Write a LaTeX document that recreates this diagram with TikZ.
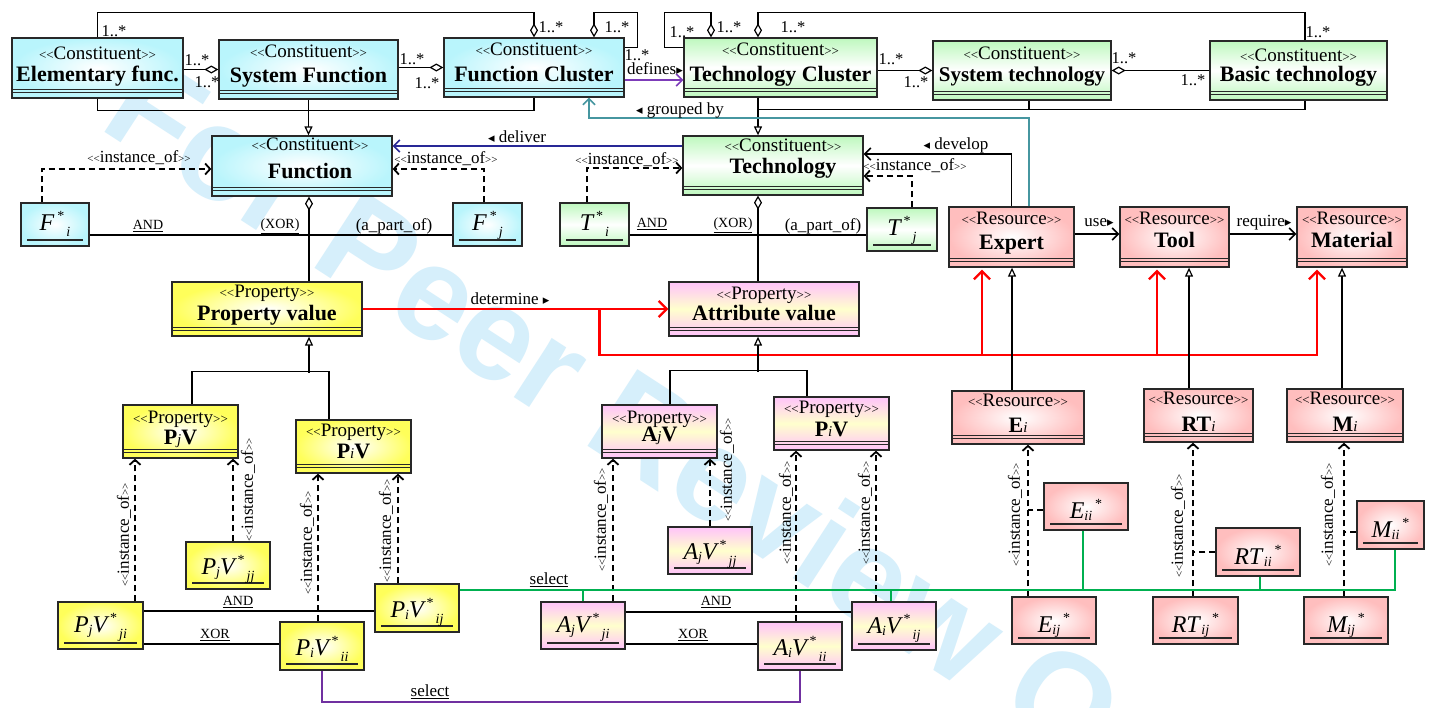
\documentclass[tikz,border=0pt]{standalone}
\usepackage{fontspec}
\setmainfont{Liberation Serif}
\newfontfamily\symfont{DejaVu Sans}
\newfontfamily\wmfont{Liberation Sans}
\usetikzlibrary{arrows.meta,calc}

\definecolor{cyanbox}{RGB}{185,245,252}
\definecolor{greenbox}{RGB}{190,248,190}
\definecolor{yellowbox}{RGB}{255,255,90}
\definecolor{pinkbox}{RGB}{255,195,250}
\definecolor{creambox}{RGB}{255,255,205}
\definecolor{resbox}{RGB}{255,190,190}
\definecolor{wm}{RGB}{214,239,251}
\definecolor{selgreen}{RGB}{0,176,80}
\definecolor{selpurple}{RGB}{112,48,160}
\definecolor{defpurple}{RGB}{125,60,185}
\definecolor{grpteal}{RGB}{70,150,160}
\definecolor{delnavy}{RGB}{40,40,150}
\definecolor{edge}{RGB}{40,40,40}

% stereotype brackets and small glyphs
\newcommand\guil[1]{{\fontsize{13}{13}\selectfont<{}<}#1{\fontsize{13}{13}\selectfont>{}>}}
\newcommand\io{{\fontsize{11}{11}\selectfont<{}<}instance\_of{\fontsize{11}{11}\selectfont>{}>}}
\newcommand\tril{{\symfont\fontsize{13}{13}\selectfont ◂}}
\newcommand\trir{{\symfont\fontsize{13}{13}\selectfont ▸}}
% instance names
\newcommand\ib[1]{{\fontsize{24}{24}\selectfont\itshape #1}}
\newcommand\is[1]{\raisebox{-2pt}{\fontsize{14}{14}\selectfont\itshape #1}}
\newcommand\istar{\hspace{3pt}\raisebox{10pt}{\fontsize{14}{14}\selectfont *}}
\newcommand\isub[1]{\hspace{2pt}\raisebox{-6pt}{\fontsize{14}{14}\selectfont\itshape #1}}
% index inside a bold class name
\newcommand\ti[1]{{\fontsize{15}{15}\selectfont\mdseries\itshape #1}}

% box given by its corners
\newcommand\ubox[6]{%
  \pgfmathsetmacro\ubW{#5-#3}%
  \pgfmathsetmacro\ubH{#6-#4}%
  \pgfmathsetmacro\ubX{(#3+#5)/2}%
  \pgfmathsetmacro\ubY{(#4+#6)/2}%
  \node[#2, minimum width=\ubW pt, minimum height=\ubH pt] (#1) at (\ubX,\ubY) {};}
% stereotype and name of a class box
\newcommand\ctext[6]{%
  \node[stereo] (#1-s) at ([xshift=#6pt,yshift=-#3pt]#1.north) {\guil{#2}};
  \node[title] (#1-t) at ([xshift=#6pt,yshift=-#5pt]#1.north) {#4};}
% instance box with underlined name
\newcommand\uinst[8]{%
  \ubox{#1}{instbox,#2}{#3}{#4}{#5}{#6}%
  \node[anchor=base, inner sep=0pt] (#1-t) at ([yshift=#8pt]#1.south) {#7};}

\tikzset{
  box/.style={draw=edge, line width=1.3pt, rectangle, inner sep=0pt},
  clsbox/.style={box, path picture={
      \draw[edge, line width=1pt] ([yshift=9pt]path picture bounding box.south west) -- ([yshift=9pt]path picture bounding box.south east);
      \draw[edge, line width=1pt] ([yshift=5.5pt]path picture bounding box.south west) -- ([yshift=5.5pt]path picture bounding box.south east);}},
  instbox/.style={box, path picture={
      \draw[edge, line width=1.2pt] ([xshift=6pt,yshift=6pt]path picture bounding box.south west) -- ([xshift=-6pt,yshift=6pt]path picture bounding box.south east);}},
  fcyan/.style={shading=radial, inner color=white, outer color=cyanbox},
  fyellow/.style={shading=radial, inner color=white, outer color=yellowbox},
  fres/.style={shading=radial, inner color=white, outer color=resbox},
  fgreen/.style={top color=greenbox, bottom color=greenbox, middle color=white},
  fpink/.style={top color=pinkbox, bottom color=pinkbox, middle color=creambox},
  stereo/.style={anchor=base, inner sep=0pt, font=\fontsize{19}{20}\selectfont},
  title/.style={anchor=base, inner sep=0pt, font=\fontsize{22}{24}\selectfont\bfseries},
  ln/.style={draw=black, line width=1.3pt},
  agg/.style={ln, -{Diamond[fill=white, length=14pt, width=8pt, line width=1.2pt]}},
  aggs/.style={ln, {Diamond[fill=white, length=14pt, width=8pt, line width=1.2pt]}-},
  gen/.style={ln, -{Triangle[fill=white, length=9pt, width=8pt, line width=1.2pt]}},
  dsh/.style={draw=black, line width=1.8pt, dash pattern=on 6pt off 4pt},
  dep/.style={dsh, -{Straight Barb[length=5pt, width=11pt, line width=1.8pt]}},
  nav/.style={ln, line width=1.6pt, -{Straight Barb[length=6pt, width=12pt, line width=1.6pt]}},
  del/.style={nav, draw=delnavy},
  grp/.style={nav, draw=grpteal, line width=2pt},
  defl/.style={nav, draw=defpurple, line width=2.5pt},
  redarr/.style={draw=red, line width=2.3pt, -{Straight Barb[length=8pt, width=16pt, line width=2.3pt]}},
  gsel/.style={draw=selgreen, line width=2pt},
  psel/.style={draw=selpurple, line width=2pt},
  lbl/.style={inner sep=0pt, font=\fontsize{17}{18}\selectfont},
  mult/.style={inner sep=0pt, font=\fontsize{16.5}{17}\selectfont},
  insl/.style={inner sep=0pt, font=\fontsize{17}{18}\selectfont},
  cond/.style={inner sep=0pt, font=\fontsize{14}{15}\selectfont},
}

\begin{document}
\begin{tikzpicture}[x=1pt,y=-1pt]
\useasboundingbox (0,0) rectangle (1431,707);
\fill[white] (0,0) rectangle (1431,707);

% watermark
\begin{scope}
  \clip (0,0) rectangle (1431,707);
  \node[font=\wmfont\bfseries\fontsize{133}{136}\selectfont, text=wm, rotate=-33, anchor=base west, inner sep=0pt] (wmk) at (97,127) {For Peer Review Only};
\end{scope}

% ---------- classes: constituents ----------
\ubox{EF}{clsbox,fcyan}{12}{38}{183}{98}
\ctext{EF}{Constituent}{22}{Elementary func.}{44}{0}
\ubox{SF}{clsbox,fcyan}{219}{40}{398}{99}
\ctext{SF}{Constituent}{18}{System Function}{43}{0}
\ubox{FC}{clsbox,fcyan}{444}{38}{624}{97}
\ctext{FC}{Constituent}{18}{Function Cluster}{44}{0}
\ubox{TC}{clsbox,fgreen}{684}{38}{877}{97}
\ctext{TC}{Constituent}{18}{Technology Cluster}{44}{0}
\ubox{ST}{clsbox,fgreen}{933}{41}{1111}{100}
\ctext{ST}{Constituent}{19}{\fontsize{21}{22}\selectfont System technology}{41}{0}
\ubox{BT}{clsbox,fgreen}{1210}{41}{1387}{100}
\ctext{BT}{Constituent}{21}{Basic technology}{41}{0}

\ubox{Fn}{clsbox,fcyan}{212}{136}{392}{196}
\ctext{Fn}{Constituent}{15}{Function}{43}{8}
\ubox{Tech}{clsbox,fgreen}{683}{136}{863}{195}
\ctext{Tech}{Constituent}{16}{Technology}{38}{10}

% ---------- resources ----------
\ubox{Expert}{clsbox,fres}{949}{207}{1074}{267}
\ctext{Expert}{Resource}{18}{Expert}{43}{0}
\ubox{Tool}{clsbox,fres}{1120}{207}{1229}{267}
\ctext{Tool}{Resource}{18}{Tool}{41}{0}
\ubox{Material}{clsbox,fres}{1297}{207}{1407}{267}
\ctext{Material}{Resource}{18}{Material}{41}{0}

% ---------- properties ----------
\ubox{PV}{clsbox,fyellow}{172}{282}{362}{336}
\ctext{PV}{Property}{16}{Property value}{39}{0}
\ubox{AV}{clsbox,fpink}{669}{282}{859}{336}
\ctext{AV}{Property}{18}{Attribute value}{39}{0}

\ubox{PjV}{clsbox,fyellow}{123}{405}{238}{458}
\ctext{PjV}{Property}{19}{P\ti{j}V}{40}{0}
\ubox{PiV}{clsbox,fyellow}{296}{420}{411}{473}
\ctext{PiV}{Property}{17}{P\ti{i}V}{39}{0}
\ubox{AjV}{clsbox,fpink}{602}{405}{717}{458}
\ctext{AjV}{Property}{19}{A\ti{j}V}{37}{0}
\ubox{PiVb}{clsbox,fpink}{774}{397}{889}{450}
\ctext{PiVb}{Property}{17}{P\ti{i}V}{40}{0}

\ubox{Ei}{clsbox,fres}{952}{391}{1084}{444}
\ctext{Ei}{Resource}{16}{E\ti{i}}{42}{0}
\ubox{RTi}{clsbox,fres}{1144}{389}{1253}{442}
\ctext{RTi}{Resource}{16}{RT\ti{i}}{43}{0}
\ubox{Mi}{clsbox,fres}{1287}{389}{1403}{442}
\ctext{Mi}{Resource}{16}{M\ti{i}}{43}{0}

% ---------- instances ----------
\uinst{Fi}{fcyan}{21}{203}{89}{246}{\ib{F}\istar\isub{i}}{16}
\uinst{Fj}{fcyan}{453}{203}{522}{246}{\ib{F}\istar\isub{j}}{16}
\uinst{Ti}{fgreen}{560}{203}{629}{246}{\ib{T}\istar\isub{i}}{16}
\uinst{Tj}{fgreen}{867}{208}{937}{251}{\ib{T}\istar\isub{j}}{16}

\uinst{PjVjj}{fyellow}{186}{542}{270}{589}{\ib{P}\is{j}\ib{V}\istar\isub{jj}}{15}
\uinst{PjVji}{fyellow}{58}{602}{143}{649}{\ib{P}\is{j}\ib{V}\istar\isub{ji}}{17}
\uinst{PiVii}{fyellow}{280}{622}{364}{670}{\ib{P}\is{i}\ib{V}\istar\isub{ii}}{15}
\uinst{PiVij}{fyellow}{375}{584}{459}{632}{\ib{P}\is{i}\ib{V}\istar\isub{ij}}{15}

\uinst{AjVjj}{fpink}{668}{527}{752}{574}{\ib{A}\is{j}\ib{V}\istar\isub{jj}}{15}
\uinst{AjVji}{fpink}{541}{602}{625}{649}{\ib{A}\is{j}\ib{V}\istar\isub{ji}}{17}
\uinst{AiVii}{fpink}{758}{622}{842}{670}{\ib{A}\is{i}\ib{V}\istar\isub{ii}}{15}
\uinst{AiVij}{fpink}{852}{602}{936}{650}{\ib{A}\is{i}\ib{V}\istar\isub{ij}}{17}

\uinst{Eii}{fres}{1044}{483}{1128}{530}{\ib{E}\is{ii}\istar}{12}
\uinst{Eij}{fres}{1012}{597}{1096}{644}{\ib{E}\is{ij}\istar}{12}
\uinst{RTii}{fres}{1216}{528}{1300}{576}{\ib{RT}\,\is{ii}\istar}{12}
\uinst{RTij}{fres}{1153}{597}{1238}{644}{\ib{RT}\,\is{ij}\istar}{12}
\uinst{Mii}{fres}{1357}{501}{1424}{549}{\ib{M}\is{ii}\istar}{12}
\uinst{Mij}{fres}{1304}{597}{1388}{644}{\ib{M}\is{ij}\istar}{12}

% ---------- top row aggregations ----------
\draw[agg] (EF.east |- SF.west) -- (SF.west);
\draw[agg] (SF.east |- FC.west) -- (FC.west);
\draw[agg] (EF.north) |- ([yshift=25pt]FC.north) -- (FC.north);
\draw[agg] ([yshift=-10pt]FC.north east) -- ++(13,0) |- ([xshift=60pt,yshift=25pt]FC.north) -- ([xshift=60pt]FC.north);
\draw[agg] ([yshift=-10pt]TC.north west) -- ++(-19,0) |- ([xshift=-69.5pt,yshift=25pt]TC.north) -- ([xshift=-69.5pt]TC.north);
\draw[agg] ([xshift=6.5pt]BT.north) |- ([xshift=-22.5pt,yshift=25pt]TC.north) -- ([xshift=-22.5pt]TC.north);
\draw[agg] (TC.east |- ST.west) -- (ST.west);
\draw[agg] (BT.west) -- (BT.west -| ST.east);

\node[mult] (m1) at (197,60) {1..*};
\node[mult] (m2) at (207,82) {1..*};
\node[mult] (m3) at (412,59) {1..*};
\node[mult] (m4) at (427,83) {1..*};
\node[mult] (m5) at (114,31) {1..*};
\node[mult] (m6) at (551,27) {1..*};
\node[mult] (m7) at (617,27) {1..*};
\node[mult] (m8) at (637,55) {1..*};
\node[mult] (m9) at (682,32) {1..*};
\node[mult] (m10) at (729,27) {1..*};
\node[mult] (m11) at (793,27) {1..*};
\node[mult] (m12) at (1318,32) {1..*};
\node[mult] (m13) at (891,59) {1..*};
\node[mult] (m14) at (916,82) {1..*};
\node[mult] (m15) at (1124,58) {1..*};
\node[mult] (m16) at (1193,80) {1..*};

% generalisations to Function and Technology
\draw[ln] (EF.south) |- ([yshift=-13pt]FC.south) -- (FC.south);
\draw[gen] (SF.south) -- (SF.south |- Fn.north);
\draw[ln] ([xshift=6.5pt]BT.south) |- ([xshift=-22.5pt,yshift=-12pt]TC.south);
\draw[ln] ([xshift=7pt]ST.south) -- ++(0,9);
\draw[gen] ([xshift=-22.5pt]TC.south) -- ([xshift=-22.5pt]TC.south |- Tech.north);

% defines / grouped by / deliver / develop
\coordinate (dfA) at ([yshift=-12.5pt]FC.east);
\draw[defl] (dfA) -- (dfA -| TC.west);
\node[lbl] (ldef) at (655,69) {defines\trir};
\draw[grp] ([xshift=17.5pt]Expert.north) |- ([xshift=55pt,yshift=-20pt]FC.south) -- ([xshift=55pt]FC.south);
\node[lbl] (lgrp) at (680,110) {\tril\ grouped by};
\coordinate (dlA) at ([yshift=19.5pt]Tech.west);
\draw[del] (dlA) -- (dlA -| Fn.east);
\node[lbl] (ldel) at (517,137) {\tril\ deliver};
\draw[nav] (Expert.north) |- ([yshift=11.5pt]Tech.east);
\node[lbl] (ldev) at (956,145) {\tril\ develop};

% function instances
\draw[dep] ([xshift=-13pt]Fi.north) |- ([yshift=-3pt]Fn.west);
\draw[dep] ([xshift=-3.5pt]Fj.north) |- ([yshift=-3pt]Fn.east);
\node[insl] (lfi) at (139,158) {\io};
\node[insl] (lfj) at (446,159) {\io};
\coordinate (fA) at ([yshift=-10.5pt]Fi.east);
\draw[ln] (fA) -- (fA -| Fj.west);
\node[cond] (fand) at (148,226) {\underline{AND}};
\node[cond] (fxor) at (280,226) {\underline{(XOR)}};
\node[lbl] (fpart) at (394,226) {(a\_part\_of)};
\draw[aggs] ([xshift=7pt]Fn.south) -- ([xshift=7pt]Fn.south |- PV.north);

% technology instances
\draw[dep] ([xshift=-7.5pt]Ti.north) |- ([yshift=-2.5pt]Tech.west);
\draw[dep] ([xshift=10pt]Tj.north) |- ([yshift=-10.5pt]Tech.east);
\node[insl] (lti) at (627,160) {\io};
\node[insl] (ltj) at (915,166) {\io};
\coordinate (tA) at ([yshift=-10.5pt]Ti.east);
\draw[ln] (tA) -- (tA -| Tj.west);
\node[cond] (tand) at (652,224) {\underline{AND}};
\node[cond] (txor) at (733,225) {\underline{(XOR)}};
\node[lbl] (tpart) at (823,226) {(a\_part\_of)};
\draw[aggs] ([xshift=-15pt]Tech.south) -- ([xshift=-15pt]Tech.south |- AV.north);

% resources
\coordinate (uA) at ([yshift=3pt]Expert.east);
\draw[nav] (uA) -- (uA -| Tool.west);
\node[lbl] (luse) at (1099,223) {use\trir};
\coordinate (rA) at ([yshift=3pt]Tool.east);
\draw[nav] (rA) -- (rA -| Material.west);
\node[lbl] (lreq) at (1264,223) {require\trir};

% determine
\draw[redarr] (PV.east) -- (AV.west);
\node[lbl] (ldet) at (510,299) {determine \trir};
\coordinate (dbr) at ($(PV.east)!0.775!(AV.west)$);
\draw[redarr, shorten >=2pt] (dbr) |- ([xshift=-35pt,yshift=-87pt]Material.south) -- ([xshift=-35pt]Material.south);
\draw[redarr, shorten >=2pt] ([xshift=-29.5pt,yshift=-87pt]Expert.south) -- ([xshift=-29.5pt]Expert.south);
\draw[redarr, shorten >=2pt] ([xshift=-17.5pt,yshift=-87pt]Tool.south) -- ([xshift=-17.5pt]Tool.south);

% property value tree
\draw[gen] ([xshift=42pt,yshift=-36pt]PV.south) -- ([xshift=42pt]PV.south);
\draw[ln] ([xshift=11.5pt]PjV.north) |- ([xshift=-24.5pt,yshift=48pt]PiV.north) -- ([xshift=-24.5pt]PiV.north);
\draw[dep] ([xshift=34.5pt]PjVji.north) -- ([xshift=34.5pt]PjVji.north |- PjV.south);
\draw[dep] ([xshift=5pt]PjVjj.north) -- ([xshift=5pt]PjVjj.north |- PjV.south);
\draw[dep] ([xshift=-4pt]PiVii.north) -- ([xshift=-4pt]PiVii.north |- PiV.south);
\draw[dep] ([xshift=-19pt]PiVij.north) -- ([xshift=-19pt]PiVij.north |- PiV.south);
\node[insl, rotate=90] (l1) at (124,535) {\io};
\node[insl, rotate=90] (l2) at (248,490) {\io};
\node[insl, rotate=90] (l3) at (307,543) {\io};
\node[insl, rotate=90] (l4) at (386,531) {\io};
\coordinate (pA) at ([yshift=14.5pt]PjVji.east);
\coordinate (pX) at ([yshift=-18.5pt]PjVji.east);
\draw[ln] (pA) -- (pA -| PiVij.west);
\draw[ln] (pX) -- (pX -| PiVii.west);
\node[cond] (pand) at (238,602) {\underline{AND}};
\node[cond] (pxor) at (215,635) {\underline{XOR}};

% attribute value tree
\draw[gen] ([xshift=-6pt,yshift=-35pt]AV.south) -- ([xshift=-6pt]AV.south);
\draw[ln] ([xshift=10.5pt]AjV.north) |- ([xshift=-24.5pt,yshift=26pt]PiVb.north) -- ([xshift=-24.5pt]PiVb.north);
\draw[dep] ([xshift=30pt]AjVji.north) -- ([xshift=30pt]AjVji.north |- AjV.south);
\draw[dep] (AjVjj.north) -- (AjVjj.north |- AjV.south);
\draw[dep] ([xshift=-4pt]AiVii.north) -- ([xshift=-4pt]AiVii.north |- PiVb.south);
\draw[dep] ([xshift=-18pt]AiVij.north) -- ([xshift=-18pt]AiVij.north |- PiVb.south);
\node[insl, rotate=90] (l5) at (601,520) {\io};
\node[insl, rotate=90] (l6) at (727,470) {\io};
\node[insl, rotate=90] (l7) at (786,513) {\io};
\node[insl, rotate=90] (l8) at (865,513) {\io};
\coordinate (aA) at ([yshift=13.5pt]AjVji.east);
\coordinate (aX) at ([yshift=-18.5pt]AjVji.east);
\draw[ln] (aA) -- (aA -| AiVij.west);
\draw[ln] (aX) -- (aX -| AiVii.west);
\node[cond] (aand) at (716,602) {\underline{AND}};
\node[cond] (axor) at (693,635) {\underline{XOR}};

% resource trees
\draw[gen] ([xshift=-6pt]Ei.north) -- ([xshift=-6pt]Ei.north |- Expert.south);
\draw[gen] ([xshift=-9.5pt]RTi.north) -- ([xshift=-9.5pt]RTi.north |- Tool.south);
\draw[gen] ([xshift=-3pt]Mi.north) -- ([xshift=-3pt]Mi.north |- Material.south);
\coordinate (eL) at ([xshift=-26pt]Eij.north);
\coordinate (eB) at ([yshift=-3.5pt]Eii.west);
\draw[dep] (eL) -- (eL |- Ei.south);
\draw[dsh] (eB) -- (eB -| eL);
\coordinate (rL) at ([xshift=-2.5pt]RTij.north);
\coordinate (rB) at (RTii.west);
\draw[dep] (rL) -- (rL |- RTi.south);
\draw[dsh] (rB) -- (rB -| rL);
\coordinate (mL) at ([xshift=-2pt]Mij.north);
\coordinate (mB) at ([yshift=-7pt]Mii.west);
\draw[dep] (mL) -- (mL |- Mi.south);
\draw[dsh] (mB) -- (mB -| mL);
\node[insl, rotate=90] (l9) at (1015,515) {\io};
\node[insl, rotate=90] (l10) at (1178,526) {\io};
\node[insl, rotate=90] (l11) at (1328,515) {\io};

% selections
\draw[psel] (PiVii.south) -- ++(0,31) -| (AiVii.south);
\node[lbl] (psl) at (430,692) {\underline{select}};
\coordinate (gs) at ([yshift=18pt]PiVij.east);
\draw[gsel] (gs) -| ([xshift=4.5pt]Mii.south);
\draw[gsel] (AjVji.north) -- (AjVji.north |- gs);
\draw[gsel] ([xshift=-3pt]AiVij.north) -- ([xshift=-3pt]AiVij.north |- gs);
\draw[gsel] ([xshift=-3pt]Eii.south) -- ([xshift=-3pt]Eii.south |- gs);
\draw[gsel] ([xshift=2pt]RTii.south) -- ([xshift=2pt]RTii.south |- gs);
\node[lbl] (gsl) at (549,580) {\underline{select}};
\end{tikzpicture}
\end{document}
